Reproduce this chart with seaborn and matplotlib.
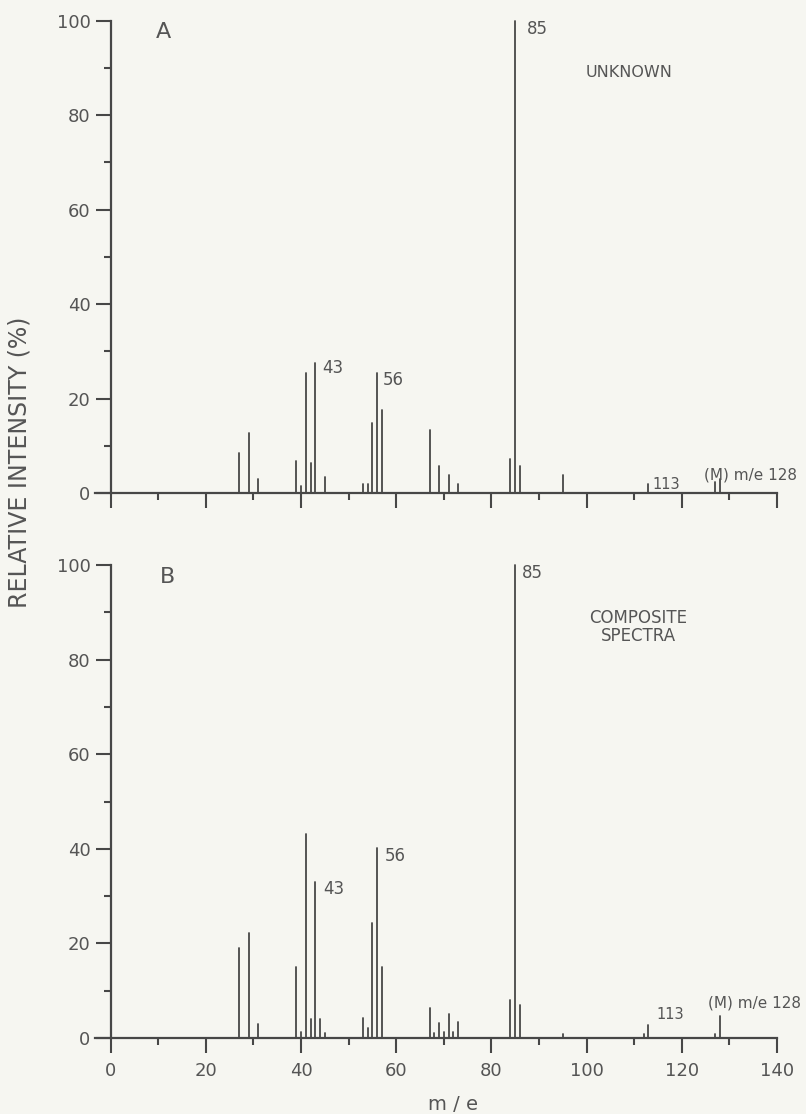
import numpy as np
import pandas as pd
import matplotlib
matplotlib.use("Agg")
import matplotlib.pyplot as plt
import seaborn as sns

# ---- data ----
mz_a = [27, 29, 31, 39, 40, 41, 42, 43, 45, 53, 54, 55, 56, 57, 67, 69, 71, 73,
        84, 85, 86, 95, 113, 127, 128]
int_a = [8.5, 12.6, 3.0, 6.8, 1.5, 25.5, 6.4, 27.6, 3.4, 1.9, 1.8, 14.8, 25.4, 17.6,
         13.4, 5.7, 3.8, 1.9, 7.2, 100, 5.7, 3.8, 1.9, 2.4, 3.0]

mz_b = [27, 29, 31, 39, 40, 41, 42, 43, 44, 45, 53, 54, 55, 56, 57, 67, 68, 69, 70,
        71, 72, 73, 84, 85, 86, 95, 112, 113, 127, 128]
int_b = [19.1, 22.1, 3.0, 15.1, 1.2, 43.2, 4.0, 33.0, 4.0, 1.1, 4.2, 2.1, 24.3, 40.1,
         15.1, 6.3, 1.0, 3.1, 1.3, 5.1, 1.3, 3.3, 8.1, 100, 7.0, 0.9, 0.9, 2.8, 0.8, 4.7]

x_major = [0, 20, 40, 60, 80, 100, 120, 140]
x_minor = [10, 30, 50, 70, 90, 110, 130]
y_major = [0, 20, 40, 60, 80, 100]
y_minor = [10, 30, 50, 70, 90]

panel_letters = ["A", "B"]
panel_titles = ["UNKNOWN", "COMPOSITE\nSPECTRA"]

INK = "#474747"
TXT = "#555555"
BG = "#f6f6f1"

sns.set_theme(style="white")
plt.rcParams["font.family"] = ["DejaVu Sans"]


def stems(mz, inten):
    rows = []
    for m, h in zip(mz, inten):
        rows.append({"mz": m, "ri": 0.0, "peak": m})
        rows.append({"mz": m, "ri": h, "peak": m})
    return pd.DataFrame(rows)


fig = plt.figure(figsize=(8.06, 11.14), dpi=100, facecolor=BG)
W, H = 806, 1114
left_px, right_px = 94.5, 777.0
axA = fig.add_axes([left_px / W, 1 - 493 / H, (right_px - left_px) / W, (493 - 20.7) / H])
axB = fig.add_axes([left_px / W, 1 - 1038 / H, (right_px - left_px) / W, (1038 - 565) / H])

for ax, mz, inten, show_x in [(axA, mz_a, int_a, False), (axB, mz_b, int_b, True)]:
    ax.set_facecolor("none")
    df = stems(mz, inten)
    sns.lineplot(data=df, x="mz", y="ri", units="peak", estimator=None,
                 color=INK, linewidth=1.3, ax=ax, legend=False)
    for l in ax.lines:
        l.set_clip_on(False)
    ax.set_xlim(-3.4, 140)
    ax.set_ylim(0, 100)
    ax.spines["left"].set_position(("data", 0))
    ax.spines["top"].set_visible(False)
    ax.spines["right"].set_visible(False)
    for s in ("left", "bottom"):
        ax.spines[s].set_color(INK)
        ax.spines[s].set_linewidth(1.6)
    ax.set_xticks(x_major)
    ax.set_xticks(x_minor, minor=True)
    ax.set_yticks(y_major)
    ax.set_yticks(y_minor, minor=True)
    ax.tick_params(axis="both", which="major", direction="out", length=11, width=1.5,
                   color=INK, labelcolor=TXT, labelsize=13)
    ax.tick_params(axis="both", which="minor", direction="out", length=5, width=1.5,
                   color=INK)
    ax.tick_params(axis="x", which="major", pad=6.5, bottom=True)
    ax.tick_params(axis="y", which="major", pad=3.5, left=True)
    ax.tick_params(axis="x", which="minor", bottom=True)
    ax.tick_params(axis="y", which="minor", left=True)
    ax.set_xlabel("")
    ax.set_ylabel("")
    if not show_x:
        ax.set_xticklabels([])

# ---- annotations, panel A ----
lab = dict(color=TXT, fontsize=12, va="center", ha="left", clip_on=False)
small = dict(color=TXT, fontsize=11, va="center", ha="left", clip_on=False)
axA.text(9.5, 97.7, panel_letters[0], color=TXT, fontsize=16, va="center", ha="left")
axA.text(87.5, 98.3, "85", **lab)
axA.text(44.4, 26.5, "43", **lab)
axA.text(57.2, 23.9, "56", **lab)
axA.text(113.9, 1.7, "113", color=TXT, fontsize=10.5, va="center", ha="left")
axA.text(124.6, 3.9, "(M) m/e 128", **small)
axA.text(99.7, 89.0, panel_titles[0], color=TXT, fontsize=11.5, va="center", ha="left")

# ---- annotations, panel B ----
axB.text(10.4, 97.5, panel_letters[1], color=TXT, fontsize=16, va="center", ha="left")
axB.text(86.4, 98.4, "85", **lab)
axB.text(44.6, 31.5, "43", **lab)
axB.text(57.6, 38.5, "56", **lab)
axB.text(114.7, 4.9, "113", color=TXT, fontsize=10.5, va="center", ha="left")
axB.text(125.6, 7.4, "(M) m/e 128", **small)
axB.text(110.8, 86.9, panel_titles[1], color=TXT, fontsize=12, va="center",
         ha="center", linespacing=1.0)

fig.text(20 / W, 1 - 462 / H, "RELATIVE INTENSITY (%)", rotation=90, color=TXT,
         fontsize=17, va="center", ha="center")
fig.text(453 / W, 1 - 1104 / H, "m / e", color=TXT, fontsize=14, va="center", ha="center")

fig.savefig("out.png", dpi=100, facecolor=BG)
